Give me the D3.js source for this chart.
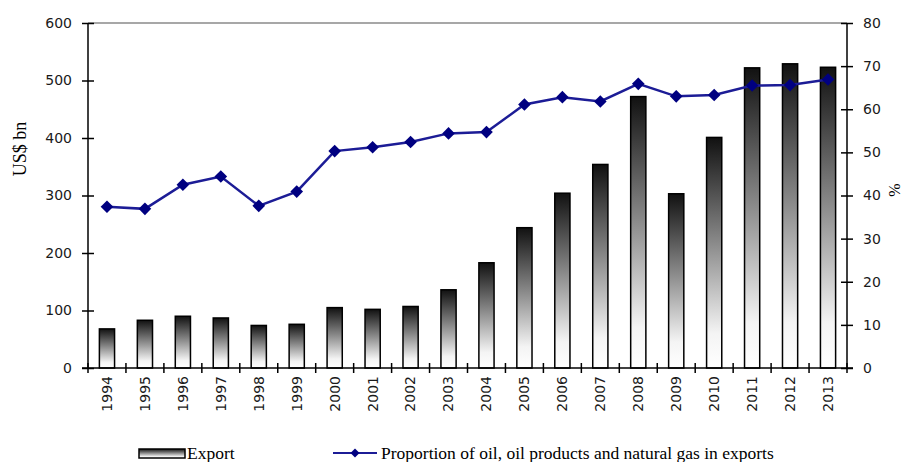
<!DOCTYPE html>
<html>
<head>
<meta charset="utf-8">
<script src="https://cdn.jsdelivr.net/npm/d3@7"></script>
<style>
  body { margin: 0; background: #fff; }
  .axis text { font-family: "DejaVu Sans", sans-serif; font-size: 14px; fill: #1a1a1a; }
  .axis path, .axis line { stroke: #000; stroke-width: 1.5px; }
  .legend text { font-family: "Liberation Serif", serif; font-size: 17.5px; fill: #000; }
</style>
</head>
<body>
<div id="chart-area"></div>
<script>
// data
var years = ["1994", "1995", "1996", "1997", "1998", "1999", "2000", "2001", "2002", "2003",
             "2004", "2005", "2006", "2007", "2008", "2009", "2010", "2011", "2012", "2013"];
var exportValues = [68, 83, 90, 87, 74, 76, 105, 102, 107, 136,
                    183, 244, 304, 354, 472, 303, 401, 522, 529, 523];
var oilGasShare = [37.4, 36.9, 42.5, 44.4, 37.6, 40.9, 50.3, 51.2, 52.4, 54.4,
                   54.7, 61.1, 62.8, 61.8, 65.9, 63.0, 63.3, 65.5, 65.6, 66.9];
var leftTicks = [0, 100, 200, 300, 400, 500, 600];
var rightTicks = [0, 10, 20, 30, 40, 50, 60, 70, 80];

var data = years.map(function(y, i){
    return { year: y, value: exportValues[i], share: oilGasShare[i] };
});

var margin = { left: 88, right: 60, top: 23, bottom: 94 };
var width = 907 - margin.left - margin.right,
    height = 462 - margin.top - margin.bottom;

var svg = d3.select("#chart-area")
    .append("svg")
        .attr("width", 907)
        .attr("height", 462);

var defs = svg.append("defs");
var grad = defs.append("linearGradient")
    .attr("id", "barGrad")
    .attr("x1", 0).attr("y1", 0)
    .attr("x2", 0).attr("y2", 1);
grad.append("stop").attr("offset", "0%").attr("stop-color", "#111");
grad.append("stop").attr("offset", "45%").attr("stop-color", "#888");
grad.append("stop").attr("offset", "85%").attr("stop-color", "#f4f4f4");
grad.append("stop").attr("offset", "100%").attr("stop-color", "#fff");

var g = svg.append("g")
    .attr("transform", "translate(" + margin.left + ", " + margin.top + ")");

// scales
var x = d3.scaleBand()
    .domain(years)
    .range([0, width])
    .paddingInner(0.6)
    .paddingOuter(0.3);

var xCat = d3.scaleBand()
    .domain(years)
    .range([0, width])
    .padding(0);

var y = d3.scaleLinear()
    .domain([0, 600])
    .range([height, 0]);

var yR = d3.scaleLinear()
    .domain([0, 80])
    .range([height, 0]);

// top border
g.append("line")
    .attr("x1", 0).attr("x2", width)
    .attr("y1", 0).attr("y2", 0)
    .attr("stroke", "#8a8a8a")
    .attr("stroke-width", 1.5);

// bars
g.selectAll("rect.bar")
    .data(data)
    .enter()
    .append("rect")
        .attr("class", "bar")
        .attr("x", function(d){ return x(d.year); })
        .attr("y", function(d){ return y(d.value); })
        .attr("width", x.bandwidth())
        .attr("height", function(d){ return height - y(d.value); })
        .attr("fill", "url(#barGrad)")
        .attr("stroke", "#000")
        .attr("stroke-width", 1.5);

// left axis
var yAxisGroup = g.append("g")
    .attr("class", "axis")
    .call(d3.axisLeft(y).tickValues(leftTicks).tickSize(6).tickPadding(10));
yAxisGroup.selectAll(".tick line").attr("x1", 6);
yAxisGroup.select(".domain").attr("d", "M0," + height + "V0");

// right axis
var yRAxisGroup = g.append("g")
    .attr("class", "axis")
    .attr("transform", "translate(" + width + ",0)")
    .call(d3.axisRight(yR).tickValues(rightTicks).tickSize(6).tickPadding(10));
yRAxisGroup.selectAll(".tick line").attr("x1", -6);
yRAxisGroup.select(".domain").attr("d", "M0," + height + "V0");

// x axis
var xAxisGroup = g.append("g")
    .attr("class", "axis")
    .attr("transform", "translate(0," + height + ")")
    .call(d3.axisBottom(x).tickSize(0).tickPadding(0));
xAxisGroup.select(".domain").attr("d", "M-6,0H" + (width + 6));
xAxisGroup.selectAll(".tick text")
    .attr("transform", "rotate(-90)")
    .attr("x", -8)
    .attr("y", 0)
    .attr("dy", "0.35em")
    .attr("text-anchor", "end");

var boundaries = years.map(function(d){ return xCat(d); }).concat([width]);
xAxisGroup.selectAll("line.cat")
    .data(boundaries)
    .enter()
    .append("line")
        .attr("class", "cat")
        .attr("x1", function(d){ return d; })
        .attr("x2", function(d){ return d; })
        .attr("y1", -5)
        .attr("y2", 5);

// line series
var line = d3.line()
    .x(function(d){ return x(d.year) + x.bandwidth() / 2; })
    .y(function(d){ return yR(d.share); });

g.append("path")
    .datum(data)
    .attr("fill", "none")
    .attr("stroke", "#1c1c96")
    .attr("stroke-width", 2.5)
    .attr("d", line);

var diamond = d3.symbol().type(d3.symbolSquare).size(80);
g.selectAll("path.marker")
    .data(data)
    .enter()
    .append("path")
        .attr("class", "marker")
        .attr("d", diamond)
        .attr("fill", "#000080")
        .attr("transform", function(d){
            return "translate(" + (x(d.year) + x.bandwidth() / 2) + "," + yR(d.share) + ") rotate(45)";
        });

// axis labels
svg.append("text")
    .attr("transform", "translate(26,149) rotate(-90)")
    .attr("text-anchor", "middle")
    .attr("font-family", "Liberation Serif, serif")
    .attr("font-size", "18px")
    .text("US$ bn");

svg.append("text")
    .attr("transform", "translate(900,190) rotate(-90)")
    .attr("text-anchor", "middle")
    .attr("font-family", "Liberation Serif, serif")
    .attr("font-size", "16px")
    .text("%");

// legend
var legend = svg.append("g").attr("class", "legend");
legend.append("rect")
    .attr("x", 139).attr("y", 449)
    .attr("width", 46).attr("height", 9)
    .attr("fill", "url(#barGrad)")
    .attr("stroke", "#000")
    .attr("stroke-width", 1.5);
legend.append("text")
    .attr("x", 187).attr("y", 459)
    .text("Export");

legend.append("line")
    .attr("x1", 333).attr("x2", 377)
    .attr("y1", 453).attr("y2", 453)
    .attr("stroke", "#1c1c96")
    .attr("stroke-width", 2);
legend.append("path")
    .attr("d", d3.symbol().type(d3.symbolSquare).size(40))
    .attr("fill", "#000080")
    .attr("transform", "translate(355,453) rotate(45)");
legend.append("text")
    .attr("x", 381).attr("y", 459)
    .text("Proportion of oil, oil products and natural gas in exports");
</script>
</body>
</html>
